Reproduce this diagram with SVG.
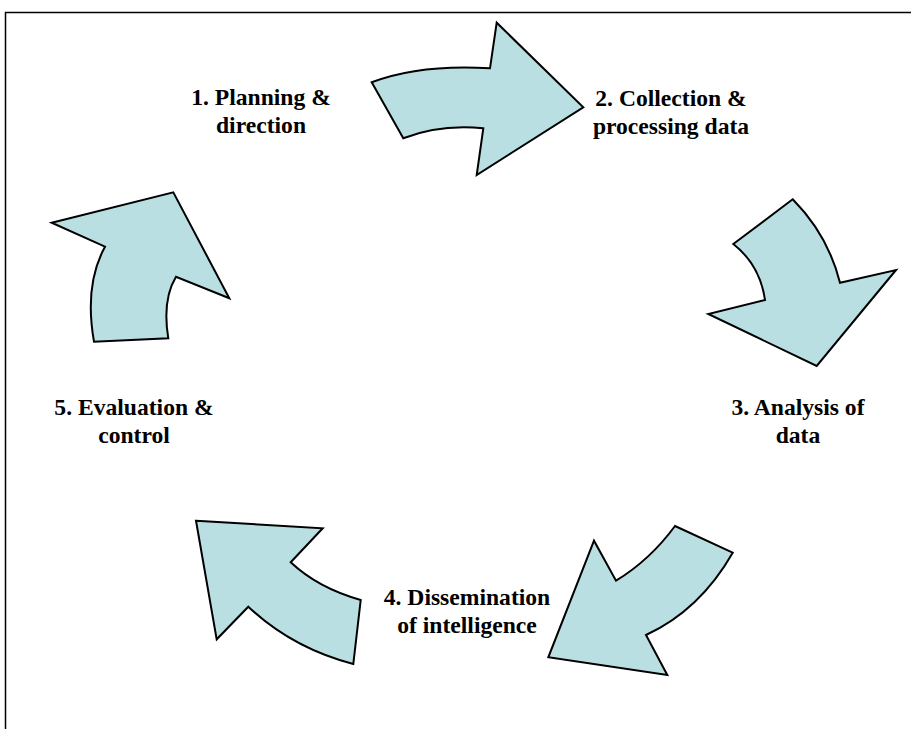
<svg xmlns="http://www.w3.org/2000/svg" width="911" height="729" viewBox="0 0 911 729">
<style>
.arr{fill:#b9dfe2;stroke:#000;stroke-width:2;stroke-linejoin:miter}
.lbl{font-family:"Liberation Serif","Times New Roman",serif;font-weight:bold;font-size:23.6px;fill:#000;text-anchor:middle}
.frame{fill:none;stroke:#000;stroke-width:1.5}
</style>
<rect width="911" height="729" fill="#fff"/>
<path class="frame" d="M5.5,729 V12.5 H911"/>
<g id="connectors">
<path id="arrow1" class="arr" d="M371.7,82.3 Q420,64 490,68.3 L496.7,22.7 L583.3,107.3 L476.7,175 L483.3,128.3 Q440,124 403.3,138.3 Z"/>
<path id="arrow2" class="arr" d="M733.3,244 L792.7,199.3 Q828,235 840,282.7 L896,270 L816.7,366 L708.3,314 L765,300 Q760,265 733.3,244 Z"/>
<path id="arrow3" class="arr" d="M675,526 L732.7,552.7 Q700,610 646,635 L667.3,675 L548.3,657.3 L594,540.7 L616,580.7 Q650,560 675,526 Z"/>
<path id="arrow4" class="arr" d="M196,520.7 L322.7,528.3 L290.7,562.3 Q318,588 360.7,600 L353.3,664 Q292,648 248.3,606.7 L216.7,639.3 Z"/>
<path id="arrow5" class="arr" d="M51.7,222.7 L173.3,192.3 L229.3,298.3 L176,276.7 Q162,300 168.3,338.3 L94,341.7 Q84,285 105,246.7 Z"/>
</g>
<g id="node1"><text class="lbl" x="261" y="105">1. Planning &amp;</text><text class="lbl" x="261" y="133">direction</text></g>
<g id="node2"><text class="lbl" x="671" y="106">2. Collection &amp;</text><text class="lbl" x="671" y="134">processing data</text></g>
<g id="node3"><text class="lbl" x="798" y="415">3. Analysis of</text><text class="lbl" x="798" y="443">data</text></g>
<g id="node4"><text class="lbl" x="467" y="605">4. Dissemination</text><text class="lbl" x="467" y="633">of intelligence</text></g>
<g id="node5"><text class="lbl" x="134" y="415">5. Evaluation &amp;</text><text class="lbl" x="134" y="443">control</text></g>
</svg>
